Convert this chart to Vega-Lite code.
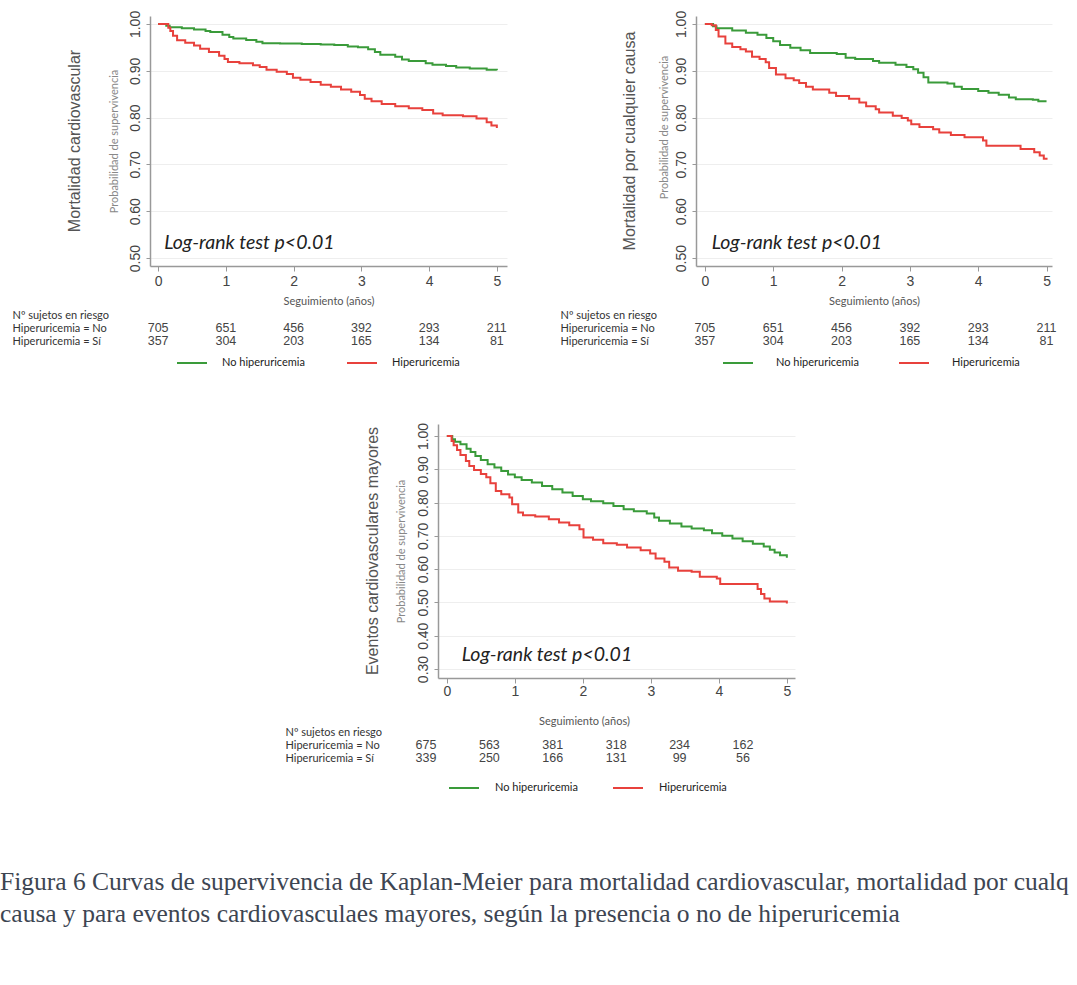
{
  "$schema": "https://vega.github.io/schema/vega-lite/v6.json",
  "padding": {"left": 0, "top": 10, "right": 0, "bottom": 0},
  "background": "white",
  "config": {
    "view": {"stroke": null},
    "font": "Liberation Sans",
    "axis": {"labelFont": "Liberation Sans", "titleFont": "Lato", "domainColor": "#999999", "tickColor": "#999999", "gridColor": "#eeeeee", "labelColor": "#444444", "titleColor": "#777777", "titleFontWeight": "normal", "labelOverlap": false},
    "title": {"font": "Liberation Sans", "fontWeight": "normal", "color": "#555555", "fontSize": 16}
  },
  "datasets": {
    "kmA": [
      {"t": 0, "s": 1.0, "g": "No hiperuricemia"}, {"t": 0.12, "s": 0.996, "g": "No hiperuricemia"}, {"t": 0.17, "s": 0.993, "g": "No hiperuricemia"}, {"t": 0.35, "s": 0.991, "g": "No hiperuricemia"}, {"t": 0.53, "s": 0.988, "g": "No hiperuricemia"}, {"t": 0.7, "s": 0.985, "g": "No hiperuricemia"}, {"t": 0.77, "s": 0.983, "g": "No hiperuricemia"}, {"t": 0.95, "s": 0.977, "g": "No hiperuricemia"}, {"t": 1.05, "s": 0.972, "g": "No hiperuricemia"}, {"t": 1.11, "s": 0.969, "g": "No hiperuricemia"}, {"t": 1.3, "s": 0.966, "g": "No hiperuricemia"}, {"t": 1.45, "s": 0.962, "g": "No hiperuricemia"}, {"t": 1.54, "s": 0.959, "g": "No hiperuricemia"}, {"t": 1.8, "s": 0.958, "g": "No hiperuricemia"}, {"t": 2.12, "s": 0.957, "g": "No hiperuricemia"}, {"t": 2.4, "s": 0.956, "g": "No hiperuricemia"}, {"t": 2.6, "s": 0.955, "g": "No hiperuricemia"}, {"t": 2.8, "s": 0.952, "g": "No hiperuricemia"}, {"t": 2.95, "s": 0.95, "g": "No hiperuricemia"}, {"t": 3.1, "s": 0.946, "g": "No hiperuricemia"}, {"t": 3.2, "s": 0.94, "g": "No hiperuricemia"}, {"t": 3.28, "s": 0.934, "g": "No hiperuricemia"}, {"t": 3.5, "s": 0.93, "g": "No hiperuricemia"}, {"t": 3.6, "s": 0.924, "g": "No hiperuricemia"}, {"t": 3.7, "s": 0.921, "g": "No hiperuricemia"}, {"t": 3.95, "s": 0.916, "g": "No hiperuricemia"}, {"t": 4.05, "s": 0.913, "g": "No hiperuricemia"}, {"t": 4.25, "s": 0.91, "g": "No hiperuricemia"}, {"t": 4.4, "s": 0.907, "g": "No hiperuricemia"}, {"t": 4.6, "s": 0.905, "g": "No hiperuricemia"}, {"t": 4.85, "s": 0.902, "g": "No hiperuricemia"}, {"t": 5.0, "s": 0.901, "g": "No hiperuricemia"},
      {"t": 0, "s": 1.0, "g": "Hiperuricemia"}, {"t": 0.15, "s": 0.992, "g": "Hiperuricemia"}, {"t": 0.18, "s": 0.985, "g": "Hiperuricemia"}, {"t": 0.22, "s": 0.975, "g": "Hiperuricemia"}, {"t": 0.28, "s": 0.965, "g": "Hiperuricemia"}, {"t": 0.4, "s": 0.96, "g": "Hiperuricemia"}, {"t": 0.53, "s": 0.954, "g": "Hiperuricemia"}, {"t": 0.62, "s": 0.947, "g": "Hiperuricemia"}, {"t": 0.75, "s": 0.94, "g": "Hiperuricemia"}, {"t": 0.9, "s": 0.932, "g": "Hiperuricemia"}, {"t": 0.98, "s": 0.925, "g": "Hiperuricemia"}, {"t": 1.03, "s": 0.919, "g": "Hiperuricemia"}, {"t": 1.2, "s": 0.916, "g": "Hiperuricemia"}, {"t": 1.4, "s": 0.912, "g": "Hiperuricemia"}, {"t": 1.5, "s": 0.908, "g": "Hiperuricemia"}, {"t": 1.6, "s": 0.902, "g": "Hiperuricemia"}, {"t": 1.75, "s": 0.898, "g": "Hiperuricemia"}, {"t": 1.9, "s": 0.893, "g": "Hiperuricemia"}, {"t": 1.99, "s": 0.885, "g": "Hiperuricemia"}, {"t": 2.1, "s": 0.881, "g": "Hiperuricemia"}, {"t": 2.25, "s": 0.876, "g": "Hiperuricemia"}, {"t": 2.4, "s": 0.87, "g": "Hiperuricemia"}, {"t": 2.55, "s": 0.866, "g": "Hiperuricemia"}, {"t": 2.7, "s": 0.86, "g": "Hiperuricemia"}, {"t": 2.85, "s": 0.855, "g": "Hiperuricemia"}, {"t": 2.98, "s": 0.848, "g": "Hiperuricemia"}, {"t": 3.05, "s": 0.84, "g": "Hiperuricemia"}, {"t": 3.15, "s": 0.835, "g": "Hiperuricemia"}, {"t": 3.3, "s": 0.829, "g": "Hiperuricemia"}, {"t": 3.5, "s": 0.824, "g": "Hiperuricemia"}, {"t": 3.7, "s": 0.82, "g": "Hiperuricemia"}, {"t": 3.9, "s": 0.816, "g": "Hiperuricemia"}, {"t": 4.06, "s": 0.809, "g": "Hiperuricemia"}, {"t": 4.2, "s": 0.805, "g": "Hiperuricemia"}, {"t": 4.5, "s": 0.803, "g": "Hiperuricemia"}, {"t": 4.7, "s": 0.798, "g": "Hiperuricemia"}, {"t": 4.85, "s": 0.79, "g": "Hiperuricemia"}, {"t": 4.92, "s": 0.783, "g": "Hiperuricemia"}, {"t": 5.0, "s": 0.778, "g": "Hiperuricemia"}
    ],
    "kmB": [
      {"t": 0, "s": 1.0, "g": "No hiperuricemia"}, {"t": 0.12, "s": 0.995, "g": "No hiperuricemia"}, {"t": 0.17, "s": 0.991, "g": "No hiperuricemia"}, {"t": 0.4, "s": 0.986, "g": "No hiperuricemia"}, {"t": 0.6, "s": 0.981, "g": "No hiperuricemia"}, {"t": 0.77, "s": 0.977, "g": "No hiperuricemia"}, {"t": 0.9, "s": 0.97, "g": "No hiperuricemia"}, {"t": 1.0, "s": 0.963, "g": "No hiperuricemia"}, {"t": 1.1, "s": 0.955, "g": "No hiperuricemia"}, {"t": 1.25, "s": 0.949, "g": "No hiperuricemia"}, {"t": 1.4, "s": 0.944, "g": "No hiperuricemia"}, {"t": 1.54, "s": 0.938, "g": "No hiperuricemia"}, {"t": 1.93, "s": 0.936, "g": "No hiperuricemia"}, {"t": 2.06, "s": 0.928, "g": "No hiperuricemia"}, {"t": 2.2, "s": 0.925, "g": "No hiperuricemia"}, {"t": 2.46, "s": 0.921, "g": "No hiperuricemia"}, {"t": 2.55, "s": 0.917, "g": "No hiperuricemia"}, {"t": 2.79, "s": 0.913, "g": "No hiperuricemia"}, {"t": 2.95, "s": 0.908, "g": "No hiperuricemia"}, {"t": 3.05, "s": 0.903, "g": "No hiperuricemia"}, {"t": 3.12, "s": 0.896, "g": "No hiperuricemia"}, {"t": 3.2, "s": 0.886, "g": "No hiperuricemia"}, {"t": 3.27, "s": 0.875, "g": "No hiperuricemia"}, {"t": 3.55, "s": 0.873, "g": "No hiperuricemia"}, {"t": 3.65, "s": 0.866, "g": "No hiperuricemia"}, {"t": 3.76, "s": 0.861, "g": "No hiperuricemia"}, {"t": 4.0, "s": 0.857, "g": "No hiperuricemia"}, {"t": 4.15, "s": 0.853, "g": "No hiperuricemia"}, {"t": 4.3, "s": 0.849, "g": "No hiperuricemia"}, {"t": 4.45, "s": 0.843, "g": "No hiperuricemia"}, {"t": 4.55, "s": 0.839, "g": "No hiperuricemia"}, {"t": 4.8, "s": 0.838, "g": "No hiperuricemia"}, {"t": 4.88, "s": 0.835, "g": "No hiperuricemia"}, {"t": 5.0, "s": 0.835, "g": "No hiperuricemia"},
      {"t": 0, "s": 1.0, "g": "Hiperuricemia"}, {"t": 0.1, "s": 0.997, "g": "Hiperuricemia"}, {"t": 0.16, "s": 0.987, "g": "Hiperuricemia"}, {"t": 0.2, "s": 0.973, "g": "Hiperuricemia"}, {"t": 0.3, "s": 0.958, "g": "Hiperuricemia"}, {"t": 0.4, "s": 0.951, "g": "Hiperuricemia"}, {"t": 0.52, "s": 0.946, "g": "Hiperuricemia"}, {"t": 0.6, "s": 0.941, "g": "Hiperuricemia"}, {"t": 0.69, "s": 0.93, "g": "Hiperuricemia"}, {"t": 0.8, "s": 0.925, "g": "Hiperuricemia"}, {"t": 0.89, "s": 0.918, "g": "Hiperuricemia"}, {"t": 0.94, "s": 0.906, "g": "Hiperuricemia"}, {"t": 1.04, "s": 0.892, "g": "Hiperuricemia"}, {"t": 1.18, "s": 0.884, "g": "Hiperuricemia"}, {"t": 1.3, "s": 0.88, "g": "Hiperuricemia"}, {"t": 1.38, "s": 0.874, "g": "Hiperuricemia"}, {"t": 1.48, "s": 0.866, "g": "Hiperuricemia"}, {"t": 1.58, "s": 0.86, "g": "Hiperuricemia"}, {"t": 1.82, "s": 0.853, "g": "Hiperuricemia"}, {"t": 1.92, "s": 0.846, "g": "Hiperuricemia"}, {"t": 2.11, "s": 0.84, "g": "Hiperuricemia"}, {"t": 2.26, "s": 0.832, "g": "Hiperuricemia"}, {"t": 2.36, "s": 0.824, "g": "Hiperuricemia"}, {"t": 2.5, "s": 0.818, "g": "Hiperuricemia"}, {"t": 2.55, "s": 0.811, "g": "Hiperuricemia"}, {"t": 2.75, "s": 0.804, "g": "Hiperuricemia"}, {"t": 2.88, "s": 0.799, "g": "Hiperuricemia"}, {"t": 2.97, "s": 0.794, "g": "Hiperuricemia"}, {"t": 3.02, "s": 0.786, "g": "Hiperuricemia"}, {"t": 3.14, "s": 0.78, "g": "Hiperuricemia"}, {"t": 3.34, "s": 0.775, "g": "Hiperuricemia"}, {"t": 3.43, "s": 0.768, "g": "Hiperuricemia"}, {"t": 3.6, "s": 0.763, "g": "Hiperuricemia"}, {"t": 3.8, "s": 0.758, "g": "Hiperuricemia"}, {"t": 4.07, "s": 0.751, "g": "Hiperuricemia"}, {"t": 4.12, "s": 0.74, "g": "Hiperuricemia"}, {"t": 4.55, "s": 0.74, "g": "Hiperuricemia"}, {"t": 4.62, "s": 0.733, "g": "Hiperuricemia"}, {"t": 4.78, "s": 0.733, "g": "Hiperuricemia"}, {"t": 4.82, "s": 0.726, "g": "Hiperuricemia"}, {"t": 4.9, "s": 0.719, "g": "Hiperuricemia"}, {"t": 4.96, "s": 0.712, "g": "Hiperuricemia"}, {"t": 5.0, "s": 0.71, "g": "Hiperuricemia"}
    ],
    "kmC": [
      {"t": 0, "s": 1.0, "g": "No hiperuricemia"}, {"t": 0.08, "s": 0.99, "g": "No hiperuricemia"}, {"t": 0.12, "s": 0.983, "g": "No hiperuricemia"}, {"t": 0.2, "s": 0.975, "g": "No hiperuricemia"}, {"t": 0.29, "s": 0.962, "g": "No hiperuricemia"}, {"t": 0.35, "s": 0.952, "g": "No hiperuricemia"}, {"t": 0.42, "s": 0.94, "g": "No hiperuricemia"}, {"t": 0.5, "s": 0.928, "g": "No hiperuricemia"}, {"t": 0.6, "s": 0.915, "g": "No hiperuricemia"}, {"t": 0.7, "s": 0.905, "g": "No hiperuricemia"}, {"t": 0.8, "s": 0.895, "g": "No hiperuricemia"}, {"t": 0.9, "s": 0.884, "g": "No hiperuricemia"}, {"t": 1.0, "s": 0.876, "g": "No hiperuricemia"}, {"t": 1.1, "s": 0.868, "g": "No hiperuricemia"}, {"t": 1.25, "s": 0.86, "g": "No hiperuricemia"}, {"t": 1.4, "s": 0.85, "g": "No hiperuricemia"}, {"t": 1.55, "s": 0.84, "g": "No hiperuricemia"}, {"t": 1.7, "s": 0.83, "g": "No hiperuricemia"}, {"t": 1.85, "s": 0.82, "g": "No hiperuricemia"}, {"t": 2.0, "s": 0.81, "g": "No hiperuricemia"}, {"t": 2.12, "s": 0.804, "g": "No hiperuricemia"}, {"t": 2.3, "s": 0.798, "g": "No hiperuricemia"}, {"t": 2.45, "s": 0.79, "g": "No hiperuricemia"}, {"t": 2.6, "s": 0.78, "g": "No hiperuricemia"}, {"t": 2.75, "s": 0.774, "g": "No hiperuricemia"}, {"t": 2.94, "s": 0.767, "g": "No hiperuricemia"}, {"t": 3.05, "s": 0.755, "g": "No hiperuricemia"}, {"t": 3.12, "s": 0.745, "g": "No hiperuricemia"}, {"t": 3.28, "s": 0.737, "g": "No hiperuricemia"}, {"t": 3.45, "s": 0.728, "g": "No hiperuricemia"}, {"t": 3.6, "s": 0.722, "g": "No hiperuricemia"}, {"t": 3.78, "s": 0.717, "g": "No hiperuricemia"}, {"t": 3.9, "s": 0.708, "g": "No hiperuricemia"}, {"t": 4.05, "s": 0.7, "g": "No hiperuricemia"}, {"t": 4.2, "s": 0.692, "g": "No hiperuricemia"}, {"t": 4.35, "s": 0.684, "g": "No hiperuricemia"}, {"t": 4.5, "s": 0.676, "g": "No hiperuricemia"}, {"t": 4.66, "s": 0.668, "g": "No hiperuricemia"}, {"t": 4.75, "s": 0.658, "g": "No hiperuricemia"}, {"t": 4.82, "s": 0.65, "g": "No hiperuricemia"}, {"t": 4.9, "s": 0.642, "g": "No hiperuricemia"}, {"t": 5.0, "s": 0.634, "g": "No hiperuricemia"},
      {"t": 0, "s": 1.0, "g": "Hiperuricemia"}, {"t": 0.07, "s": 0.985, "g": "Hiperuricemia"}, {"t": 0.1, "s": 0.972, "g": "Hiperuricemia"}, {"t": 0.15, "s": 0.958, "g": "Hiperuricemia"}, {"t": 0.2, "s": 0.943, "g": "Hiperuricemia"}, {"t": 0.28, "s": 0.925, "g": "Hiperuricemia"}, {"t": 0.33, "s": 0.91, "g": "Hiperuricemia"}, {"t": 0.4, "s": 0.898, "g": "Hiperuricemia"}, {"t": 0.5, "s": 0.886, "g": "Hiperuricemia"}, {"t": 0.58, "s": 0.876, "g": "Hiperuricemia"}, {"t": 0.64, "s": 0.858, "g": "Hiperuricemia"}, {"t": 0.72, "s": 0.835, "g": "Hiperuricemia"}, {"t": 0.8, "s": 0.825, "g": "Hiperuricemia"}, {"t": 0.92, "s": 0.815, "g": "Hiperuricemia"}, {"t": 0.96, "s": 0.795, "g": "Hiperuricemia"}, {"t": 1.05, "s": 0.77, "g": "Hiperuricemia"}, {"t": 1.12, "s": 0.762, "g": "Hiperuricemia"}, {"t": 1.3, "s": 0.758, "g": "Hiperuricemia"}, {"t": 1.5, "s": 0.75, "g": "Hiperuricemia"}, {"t": 1.65, "s": 0.74, "g": "Hiperuricemia"}, {"t": 1.8, "s": 0.732, "g": "Hiperuricemia"}, {"t": 1.95, "s": 0.72, "g": "Hiperuricemia"}, {"t": 2.01, "s": 0.695, "g": "Hiperuricemia"}, {"t": 2.15, "s": 0.688, "g": "Hiperuricemia"}, {"t": 2.3, "s": 0.678, "g": "Hiperuricemia"}, {"t": 2.5, "s": 0.673, "g": "Hiperuricemia"}, {"t": 2.65, "s": 0.665, "g": "Hiperuricemia"}, {"t": 2.85, "s": 0.657, "g": "Hiperuricemia"}, {"t": 2.99, "s": 0.647, "g": "Hiperuricemia"}, {"t": 3.07, "s": 0.632, "g": "Hiperuricemia"}, {"t": 3.2, "s": 0.622, "g": "Hiperuricemia"}, {"t": 3.27, "s": 0.605, "g": "Hiperuricemia"}, {"t": 3.4, "s": 0.595, "g": "Hiperuricemia"}, {"t": 3.6, "s": 0.592, "g": "Hiperuricemia"}, {"t": 3.72, "s": 0.577, "g": "Hiperuricemia"}, {"t": 3.97, "s": 0.572, "g": "Hiperuricemia"}, {"t": 4.02, "s": 0.555, "g": "Hiperuricemia"}, {"t": 4.5, "s": 0.555, "g": "Hiperuricemia"}, {"t": 4.57, "s": 0.54, "g": "Hiperuricemia"}, {"t": 4.62, "s": 0.525, "g": "Hiperuricemia"}, {"t": 4.67, "s": 0.512, "g": "Hiperuricemia"}, {"t": 4.75, "s": 0.503, "g": "Hiperuricemia"}, {"t": 5.0, "s": 0.497, "g": "Hiperuricemia"}
    ],
    "riskAB": [
      {"t": 0, "fila": "Hiperuricemia = No", "n": 705}, {"t": 1, "fila": "Hiperuricemia = No", "n": 651}, {"t": 2, "fila": "Hiperuricemia = No", "n": 456}, {"t": 3, "fila": "Hiperuricemia = No", "n": 392}, {"t": 4, "fila": "Hiperuricemia = No", "n": 293}, {"t": 5, "fila": "Hiperuricemia = No", "n": 211},
      {"t": 0, "fila": "Hiperuricemia = Sí", "n": 357}, {"t": 1, "fila": "Hiperuricemia = Sí", "n": 304}, {"t": 2, "fila": "Hiperuricemia = Sí", "n": 203}, {"t": 3, "fila": "Hiperuricemia = Sí", "n": 165}, {"t": 4, "fila": "Hiperuricemia = Sí", "n": 134}, {"t": 5, "fila": "Hiperuricemia = Sí", "n": 81}
    ],
    "riskC": [
      {"t": 0, "fila": "Hiperuricemia = No", "n": 675}, {"t": 1, "fila": "Hiperuricemia = No", "n": 563}, {"t": 2, "fila": "Hiperuricemia = No", "n": 381}, {"t": 3, "fila": "Hiperuricemia = No", "n": 318}, {"t": 4, "fila": "Hiperuricemia = No", "n": 234}, {"t": 5, "fila": "Hiperuricemia = No", "n": 162},
      {"t": 0, "fila": "Hiperuricemia = Sí", "n": 339}, {"t": 1, "fila": "Hiperuricemia = Sí", "n": 250}, {"t": 2, "fila": "Hiperuricemia = Sí", "n": 166}, {"t": 3, "fila": "Hiperuricemia = Sí", "n": 131}, {"t": 4, "fila": "Hiperuricemia = Sí", "n": 99}, {"t": 5, "fila": "Hiperuricemia = Sí", "n": 56}
    ],
    "nota": [{"nota": "Log-rank test p<0.01"}],
    "caption": [
      {"linea": 1, "texto": "Figura 6 Curvas de supervivencia de Kaplan-Meier para mortalidad cardiovascular, mortalidad por cualquier"},
      {"linea": 2, "texto": "causa y para eventos cardiovasculaes mayores, según la presencia o no de hiperuricemia"}
    ]
  },
  "spacing": 77,
  "vconcat": [
    {
      "spacing": 54,
      "resolve": {"scale": {"color": "independent"}},
      "vconcat": [
        {
          "spacing": 53,
          "resolve": {"scale": {"color": "independent"}},
          "hconcat": [
            {
              "spacing": 3,
              "vconcat": [
                {
                  "width": 357, "height": 250,
                  "title": {"text": "Mortalidad cardiovascular", "orient": "left", "offset": 25},
                  "layer": [
                    {
                      "data": {"name": "kmA"},
                      "mark": {"type": "line", "interpolate": "step-after", "strokeWidth": 2},
                      "encoding": {
                        "x": {"field": "t", "type": "quantitative", "scale": {"domain": [-0.12, 5.15], "nice": false, "zero": false}, "axis": {"values": [0, 1, 2, 3, 4, 5], "tickCount": 10, "format": "d", "labelFontSize": 14, "labelPadding": 3, "tickSize": 5, "domainWidth": 1.5, "grid": false, "title": "Seguimiento (años)", "titleFontSize": 11, "titlePadding": 7, "titleColor": "#555555"}},
                        "y": {"field": "s", "type": "quantitative", "scale": {"domain": [0.483, 1.017], "nice": false, "zero": false}, "axis": {"values": [0.5, 0.6, 0.7, 0.8, 0.9, 1.0], "tickCount": 10, "format": ".2f", "labelAngle": 270, "labelOverlap": false, "labelFontSize": 14, "labelPadding": 4, "tickSize": 4, "domainWidth": 1.5, "grid": true, "title": "Probabilidad de supervivencia", "titleFontSize": 11, "titlePadding": 9, "titleColor": "#888888"}},
                        "color": {"field": "g", "type": "nominal", "scale": {"domain": ["No hiperuricemia", "Hiperuricemia"], "range": ["#3a9b3a", "#e8413c"]}, "legend": {"title": null, "orient": "none", "legendX": 26, "legendY": 331, "direction": "horizontal", "symbolType": "stroke", "symbolSize": 900, "symbolStrokeWidth": 2, "labelFontSize": 11, "labelFont": "Lato", "labelColor": "#222222", "labelOffset": 14, "columnPadding": 38}}
                      }
                    },
                    {
                      "data": {"name": "nota"},
                      "mark": {"type": "text", "align": "left", "baseline": "middle", "font": "Lato", "fontStyle": "italic", "fontSize": 19.5, "color": "#222222"},
                      "encoding": {"x": {"datum": 0.09, "type": "quantitative"}, "y": {"datum": 0.532, "type": "quantitative"}, "text": {"field": "nota"}}
                    }
                  ]
                },
                {
                  "width": 357, "height": 26,
                  "data": {"name": "riskAB"},
                  "mark": {"type": "text", "fontSize": 12.5, "font": "Liberation Sans", "color": "#444444", "baseline": "middle"},
                  "encoding": {
                    "x": {"field": "t", "type": "quantitative", "scale": {"domain": [-0.12, 5.15], "nice": false, "zero": false}, "axis": null},
                    "y": {"field": "fila", "type": "ordinal", "scale": {"type": "point", "domain": ["Nº sujetos en riesgo", "Hiperuricemia = No", "Hiperuricemia = Sí"], "padding": 0}, "axis": {"title": null, "domain": false, "ticks": false, "tickSize": 0, "grid": false, "labelAlign": "left", "labelBaseline": "middle", "labelPadding": 138, "labelFontSize": 11, "labelFont": "Lato", "labelColor": "#333333"}},
                    "text": {"field": "n", "type": "quantitative"}
                  }
                }
              ]
            },
            {
              "spacing": 3,
              "vconcat": [
                {
                  "width": 356, "height": 250,
                  "title": {"text": "Mortalidad por cualquier causa", "orient": "left", "offset": 20},
                  "layer": [
                    {
                      "data": {"name": "kmB"},
                      "mark": {"type": "line", "interpolate": "step-after", "strokeWidth": 2},
                      "encoding": {
                        "x": {"field": "t", "type": "quantitative", "scale": {"domain": [-0.13, 5.08], "nice": false, "zero": false}, "axis": {"values": [0, 1, 2, 3, 4, 5], "tickCount": 10, "format": "d", "labelFontSize": 14, "labelPadding": 3, "tickSize": 5, "domainWidth": 1.5, "grid": false, "title": "Seguimiento (años)", "titleFontSize": 11, "titlePadding": 7, "titleColor": "#555555"}},
                        "y": {"field": "s", "type": "quantitative", "scale": {"domain": [0.483, 1.017], "nice": false, "zero": false}, "axis": {"values": [0.5, 0.6, 0.7, 0.8, 0.9, 1.0], "tickCount": 10, "format": ".2f", "labelAngle": 270, "labelOverlap": false, "labelFontSize": 14, "labelPadding": 4, "tickSize": 4, "domainWidth": 1.5, "grid": true, "title": "Probabilidad de supervivencia", "titleFontSize": 11, "titlePadding": 5, "titleY": 111, "titleColor": "#888888"}},
                        "color": {"field": "g", "type": "nominal", "scale": {"domain": ["No hiperuricemia", "Hiperuricemia"], "range": ["#3a9b3a", "#e8413c"]}, "legend": {"title": null, "orient": "none", "legendX": 26, "legendY": 331, "direction": "horizontal", "symbolType": "stroke", "symbolSize": 900, "symbolStrokeWidth": 2, "labelFontSize": 11, "labelFont": "Lato", "labelColor": "#222222", "labelOffset": 22, "columnPadding": 36}}
                      }
                    },
                    {
                      "data": {"name": "nota"},
                      "mark": {"type": "text", "align": "left", "baseline": "middle", "font": "Lato", "fontStyle": "italic", "fontSize": 19.5, "color": "#222222"},
                      "encoding": {"x": {"datum": 0.1, "type": "quantitative"}, "y": {"datum": 0.532, "type": "quantitative"}, "text": {"field": "nota"}}
                    }
                  ]
                },
                {
                  "width": 356, "height": 26,
                  "data": {"name": "riskAB"},
                  "mark": {"type": "text", "fontSize": 12.5, "font": "Liberation Sans", "color": "#444444", "baseline": "middle"},
                  "encoding": {
                    "x": {"field": "t", "type": "quantitative", "scale": {"domain": [-0.13, 5.08], "nice": false, "zero": false}, "axis": null},
                    "y": {"field": "fila", "type": "ordinal", "scale": {"type": "point", "domain": ["Nº sujetos en riesgo", "Hiperuricemia = No", "Hiperuricemia = Sí"], "padding": 0}, "axis": {"title": null, "domain": false, "ticks": false, "tickSize": 0, "grid": false, "labelAlign": "left", "labelBaseline": "middle", "labelPadding": 136, "labelFontSize": 11, "labelFont": "Lato", "labelColor": "#333333"}},
                    "text": {"field": "n", "type": "quantitative"}
                  }
                }
              ]
            }
          ]
        },
        {
          "spacing": 0,
          "resolve": {"scale": {"color": "independent"}},
          "hconcat": [
            {
              "width": 135, "height": 1,
              "data": {"values": []},
              "mark": {"type": "point", "opacity": 0}
            },
            {
              "spacing": 0,
              "vconcat": [
                {
                  "width": 357, "height": 254,
                  "title": {"text": "Eventos cardiovasculares mayores", "orient": "left", "offset": 14, "frame": "group"},
                  "layer": [
                    {
                      "data": {"name": "kmC"},
                      "mark": {"type": "line", "interpolate": "step-after", "strokeWidth": 2},
                      "encoding": {
                        "x": {"field": "t", "type": "quantitative", "scale": {"domain": [-0.13, 5.12], "nice": false, "zero": false}, "axis": {"values": [0, 1, 2, 3, 4, 5], "tickCount": 10, "format": "d", "labelFontSize": 14, "labelPadding": 1, "tickSize": 5, "domainWidth": 1.5, "grid": false, "title": "Seguimiento (años)", "titleFontSize": 11, "titlePadding": 17, "titleX": 146, "titleColor": "#555555"}},
                        "y": {"field": "s", "type": "quantitative", "scale": {"domain": [0.273, 1.036], "nice": false, "zero": false}, "axis": {"values": [0.3, 0.4, 0.5, 0.6, 0.7, 0.8, 0.9, 1.0], "tickCount": 10, "format": ".2f", "labelAngle": 270, "labelOverlap": false, "labelFontSize": 14, "labelPadding": 4, "tickSize": 4, "domainWidth": 1.5, "grid": true, "title": "Probabilidad de supervivencia", "titleFontSize": 11, "titlePadding": 10, "titleColor": "#888888"}},
                        "color": {"field": "g", "type": "nominal", "scale": {"domain": ["No hiperuricemia", "Hiperuricemia"], "range": ["#3a9b3a", "#e8413c"]}, "legend": {"title": null, "orient": "none", "legendX": 10, "legendY": 348, "direction": "horizontal", "symbolType": "stroke", "symbolSize": 900, "symbolStrokeWidth": 2, "labelFontSize": 11, "labelFont": "Lato", "labelColor": "#222222", "labelOffset": 15, "columnPadding": 31}}
                      }
                    },
                    {
                      "data": {"name": "nota"},
                      "mark": {"type": "text", "align": "left", "baseline": "middle", "font": "Lato", "fontStyle": "italic", "fontSize": 19.5, "color": "#222222"},
                      "encoding": {"x": {"datum": 0.22, "type": "quantitative"}, "y": {"datum": 0.342, "type": "quantitative"}, "text": {"field": "nota"}}
                    }
                  ]
                },
                {
                  "width": 357, "height": 26,
                  "data": {"name": "riskC"},
                  "mark": {"type": "text", "fontSize": 12.5, "font": "Liberation Sans", "color": "#444444", "baseline": "middle"},
                  "encoding": {
                    "x": {"field": "t", "type": "quantitative", "scale": {"domain": [0.19, 5.82], "nice": false, "zero": false}, "axis": null},
                    "y": {"field": "fila", "type": "ordinal", "scale": {"type": "point", "domain": ["Nº sujetos en riesgo", "Hiperuricemia = No", "Hiperuricemia = Sí"], "padding": 0}, "axis": {"title": null, "domain": false, "ticks": false, "tickSize": 0, "grid": false, "labelAlign": "left", "labelBaseline": "middle", "labelPadding": 153, "labelFontSize": 11, "labelFont": "Lato", "labelColor": "#333333"}},
                    "text": {"field": "n", "type": "quantitative"}
                  }
                }
              ]
            }
          ]
        }
      ]
    },
    {
      "width": 927, "height": 32,
      "data": {"name": "caption"},
      "mark": {"type": "text", "align": "left", "baseline": "middle", "dx": -150, "font": "Liberation Serif", "fontSize": 25.5, "color": "#3d4552", "limit": 1077, "ellipsis": " "},
      "encoding": {
        "x": {"datum": 0, "type": "quantitative", "scale": {"domain": [0, 1]}, "axis": null},
        "y": {"field": "linea", "type": "ordinal", "scale": {"type": "point", "padding": 0}, "axis": null},
        "text": {"field": "texto"}
      }
    }
  ]
}
